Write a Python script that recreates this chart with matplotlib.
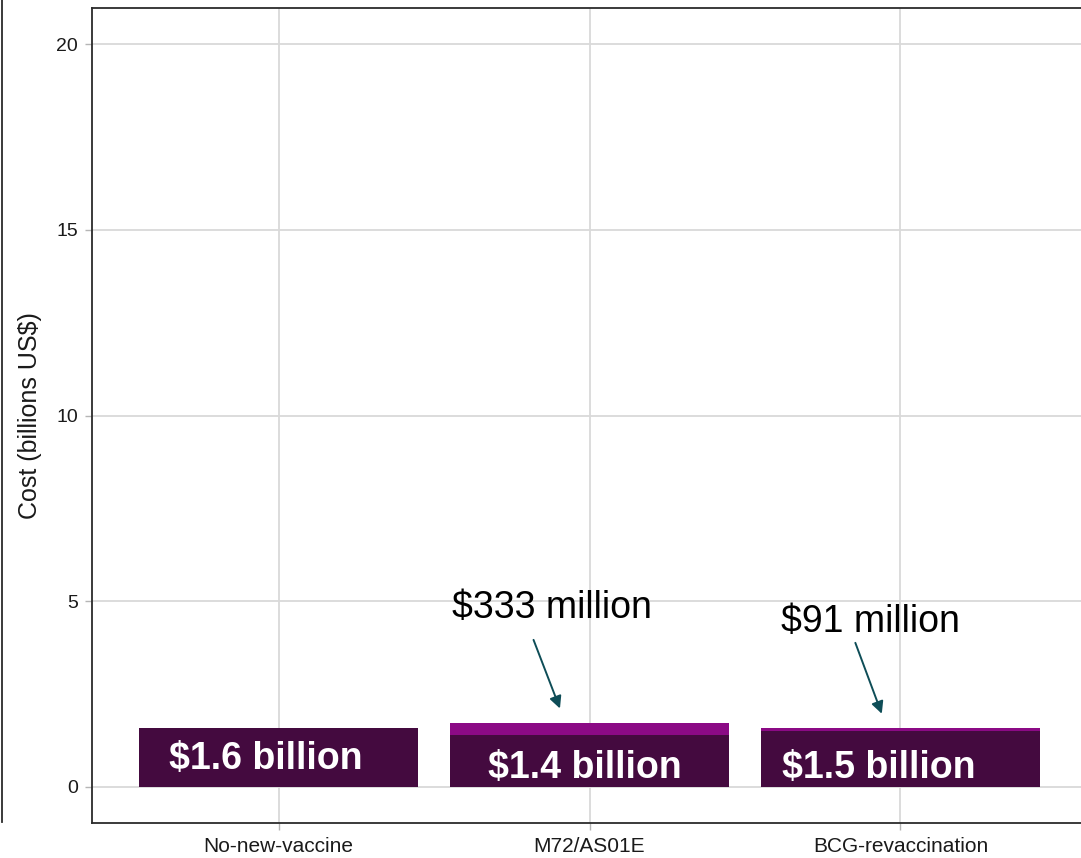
import matplotlib
matplotlib.use("Agg")
import matplotlib.pyplot as plt
from matplotlib.lines import Line2D

plt.rcParams['font.family'] = ['Liberation Sans', 'DejaVu Sans']

# Data
categories = ["No-new-vaccine", "M72/AS01E", "BCG-revaccination"]
base_cost = [1.6, 1.4, 1.5]            # billions US$
vaccine_cost = [0.0, 0.333, 0.091]     # billions US$
base_labels = ["$1.6 billion", "$1.4 billion", "$1.5 billion"]
vaccine_labels = ["", "$333 million", "$91 million"]
y_ticks = [0, 5, 10, 15, 20]

W, H = 1081, 858
fig = plt.figure(figsize=(W / 100, H / 100), dpi=100)
fig.patch.set_facecolor("white")

left_px, right_px, top_px, bottom_px = 92, 1087, 8, 823
ax = fig.add_axes([left_px / W, 1 - bottom_px / H,
                   (right_px - left_px) / W, (bottom_px - top_px) / H])

dark = "#440a3f"
bright = "#8b0a85"
x = list(range(len(categories)))

ax.bar(x, base_cost, width=0.9, color=dark, zorder=2)
ax.bar(x, vaccine_cost, bottom=base_cost, width=0.9, color=bright, zorder=2)

ax.set_xlim(-0.6, 2.6)
ax.set_ylim(-0.97, 20.97)
ax.set_xticks(x)
ax.set_xticklabels(categories, fontsize=15, color="#1a1a1a")
ax.set_yticks(y_ticks)
ax.set_yticklabels([str(t) for t in y_ticks], fontsize=14, color="#1a1a1a")
ax.tick_params(axis="both", length=5, width=1, color="#b5b5b5", pad=5)
ax.set_ylabel("Cost (billions US$)", fontsize=18, color="#1a1a1a", labelpad=10)

ax.grid(True, color="#d9d9d9", linewidth=1.3, zorder=0)
ax.set_axisbelow(True)

for side in ["left", "bottom", "top"]:
    ax.spines[side].set_color("#2b2b2b")
    ax.spines[side].set_linewidth(1.3)
ax.spines["right"].set_visible(False)

# Labels inside the base bars
base_label_pos = [(-0.04, 0.76), (0.985, 0.50), (1.93, 0.50)]
for (lx, ly), txt in zip(base_label_pos, base_labels):
    ax.text(lx, ly, txt, ha="center", va="center", color="white",
            fontsize=27, fontweight="bold", zorder=3)

# Callouts for the vaccine cost segments
callout_text_pos = [None, (0.878, 4.82), (1.904, 4.44)]
arrow_tail = [None, (0.82, 3.96), (1.855, 3.88)]
for i, txt in enumerate(vaccine_labels):
    if not txt:
        continue
    tx, ty = callout_text_pos[i]
    ax.text(tx, ty, txt, ha="center", va="center", color="black",
            fontsize=27, zorder=3)
    head = (arrow_tail[i][0] + 0.085, base_cost[i] + vaccine_cost[i] + 0.38)
    ax.annotate("", xy=head, xytext=arrow_tail[i],
                arrowprops=dict(arrowstyle="-|>", color="#0e4d57", lw=1.4,
                                mutation_scale=18, shrinkA=0, shrinkB=0),
                zorder=3)

# Panel divider line at the far left
fig.add_artist(Line2D([1.5 / W, 1.5 / W], [1 - 822 / H, 1.0],
                      transform=fig.transFigure, color="#2b2b2b", linewidth=1.3))

fig.savefig("out.png", dpi=100, facecolor="white")
